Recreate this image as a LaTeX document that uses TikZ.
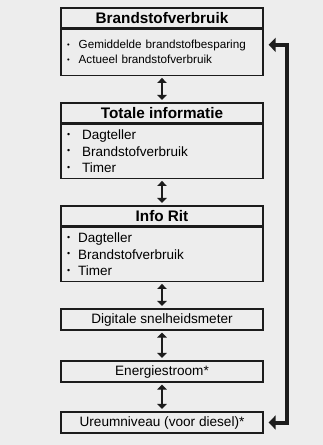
\documentclass[tikz,border=0pt]{standalone}
\usepackage{fontspec}
\setmainfont{Liberation Sans}
\usetikzlibrary{arrows.meta, positioning, calc}
\definecolor{pagegray}{RGB}{237, 237, 237}
\definecolor{framedark}{RGB}{28, 28, 28}
\newcommand{\blt}[1][6pt]{\raisebox{0.3ex}{\scalebox{0.65}{\textbullet}}\hspace{#1}}

\begin{document}
\begin{tikzpicture}[x=1pt, y=-1pt,
    titlebox/.style={draw=framedark, line width=1.3pt, fill=pagegray,
        minimum width=202pt, minimum height=20pt, inner sep=0pt,
        font=\fontsize{15.3}{18}\selectfont\bfseries},
    listbox/.style={draw=framedark, line width=1.3pt, fill=pagegray,
        minimum width=202pt, text width=190pt, inner xsep=6pt, inner ysep=0pt,
        align=left, anchor=north},
    linebox/.style={draw=framedark, line width=1.3pt, fill=pagegray,
        minimum width=202pt, minimum height=21pt, inner sep=0pt,
        font=\fontsize{13.6}{16}\selectfont},
    flipflow/.style={{Triangle[width=9.5pt,length=5pt]}-{Triangle[width=9.5pt,length=5pt]},
        line width=2.6pt, framedark, shorten <=2pt, shorten >=2.5pt},
    loopback/.style={{Triangle[width=14pt,length=7pt]}-{Triangle[width=14pt,length=7pt]},
        line width=4pt, framedark, shorten <=5pt, shorten >=5pt}
]
    % Background
    \fill[pagegray] (0,0) rectangle (323,445);
    \useasboundingbox (0,0) rectangle (323,445);

    % Brandstofverbruik
    \node[titlebox] (b1title) at (162,18) {Brandstofverbruik};
    \node[listbox, minimum height=46pt, font=\fontsize{11.7}{15}\selectfont]
        (b1body) at (b1title.south) {\blt[9pt]Gemiddelde brandstofbesparing\\ \blt[9pt]Actueel brandstofverbruik};

    % Totale informatie
    \node[titlebox] (b2title) at (162,113) {Totale informatie};
    \node[listbox, minimum height=54pt, font=\fontsize{13.5}{16.8}\selectfont]
        (b2body) at (b2title.south) {\blt[12pt]Dagteller\\ \blt[12pt]Brandstofverbruik\\ \blt[12pt]Timer};

    % Info Rit
    \node[titlebox] (b3title) at (162,216) {Info Rit};
    \node[listbox, minimum height=54pt, font=\fontsize{13.5}{16.8}\selectfont]
        (b3body) at (b3title.south) {\blt[8pt]Dagteller\\ \blt[8pt]Brandstofverbruik\\ \blt[8pt]Timer};

    % Single line screens
    \node[linebox] (b4) at (162,319.5) {Digitale snelheidsmeter};
    \node[linebox] (b5) at (162,371.5) {Energiestroom*};
    \node[linebox] (b6) at (162,422.5) {Ureumniveau (voor diesel)*};

    % Scroll arrows
    \draw[flipflow] (b1body.south) -- (b2title.north);
    \draw[flipflow] (b2body.south) -- (b3title.north);
    \draw[flipflow] (b3body.south) -- (b4.north);
    \draw[flipflow] (b4.south) -- (b5.north);
    \draw[flipflow] (b5.south) -- (b6.north);

    % Back to start
    \draw[loopback] (b6.east) -- ($(b6.east)+(23,0)$) |- ([yshift=7.5pt]b1body.east);
\end{tikzpicture}
\end{document}
